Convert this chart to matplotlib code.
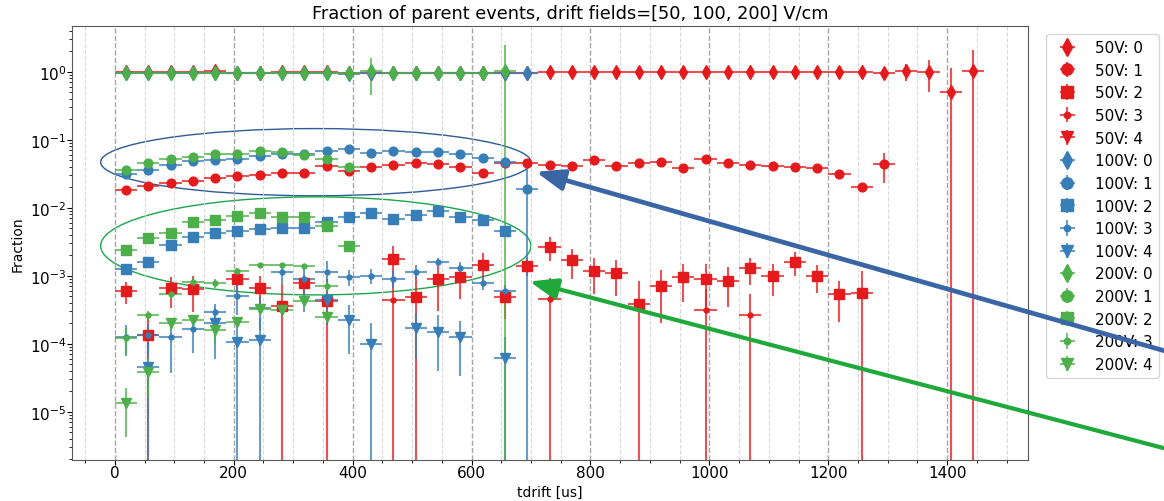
import matplotlib
matplotlib.use("Agg")
import matplotlib.pyplot as plt
from matplotlib.patches import Ellipse, FancyArrowPatch
from matplotlib.ticker import MultipleLocator

# bin centres of the drift time histogram [us]
tdrift = [18.75, 56.25, 93.75, 131.25, 168.75, 206.25, 243.75, 281.25,
          318.75, 356.25, 393.75, 431.25, 468.75, 506.25, 543.75, 581.25,
          618.75, 656.25, 693.75, 731.25, 768.75, 806.25, 843.75, 881.25,
          918.75, 956.25, 993.75, 1031.25, 1068.75, 1106.25, 1143.75,
          1181.25, 1218.75, 1256.25, 1293.75, 1331.25, 1368.75, 1406.25,
          1443.75]
half_bin = 18.75

fields = ["50V", "100V", "200V"]
colors = ["#e41a1c", "#377eb8", "#4daf4a"]
markers = ["d", "o", "s", ".", "v"]
msizes = [7, 6.3, 6.8, 7, 7]

# ---- 50 V/cm ----
bins_50_0 = list(range(39))
frac_50_0 = [0.98, 0.99, 0.98, 0.98, 1.02, 0.97, 0.97, 0.98, 0.98, 0.98,
             0.97, 0.97, 0.97, 0.97, 0.97, 0.97, 0.97, 0.97, 0.97, 0.98,
             0.98, 0.98, 0.98, 0.98, 0.98, 0.98, 0.98, 0.98, 0.98, 0.98,
             0.98, 0.98, 0.98, 0.99, 0.97, 1.02, 1.00, 0.51, 1.01]
err_50_0 = [0.02, 0.02, 0.02, 0.02, 0.02, 0.02, 0.02, 0.02, 0.02, 0.02,
            0.02, 0.02, 0.02, 0.02, 0.02, 0.02, 0.02, 0.02, 0.02, 0.02,
            0.03, 0.03, 0.03, 0.03, 0.03, 0.03, 0.03, 0.03, 0.03, 0.03,
            0.03, 0.03, 0.03, 0.05, 0.08, 0.30, 0.50, 0.62, 1.05]

bins_50_1 = list(range(35))
frac_50_1 = [0.0185, 0.0207, 0.0232, 0.0243, 0.0269, 0.0291, 0.0300, 0.0319,
             0.0319, 0.0409, 0.0341, 0.0400, 0.0423, 0.0449, 0.0440, 0.0396,
             0.0327, 0.0450, 0.0459, 0.0430, 0.0404, 0.0497, 0.0414, 0.0449,
             0.0471, 0.0383, 0.0514, 0.0449, 0.0423, 0.0414, 0.0396, 0.0383,
             0.0312, 0.0202, 0.0438]
err_50_1 = [0.0008, 0.0008, 0.0009, 0.0009, 0.0010, 0.0010, 0.0011, 0.0012,
            0.0012, 0.0015, 0.0013, 0.0015, 0.0016, 0.0017, 0.0017, 0.0016,
            0.0015, 0.0018, 0.0019, 0.0020, 0.0022, 0.0025, 0.0024, 0.0026,
            0.0028, 0.0026, 0.0032, 0.0030, 0.0030, 0.0031, 0.0032, 0.0033,
            0.0033, 0.0030, 0.0210]

bins_50_2 = [0, 1, 2, 3, 5, 6, 7, 8, 9, 12, 13, 14, 15, 16, 17, 18, 19, 20,
             21, 22, 23, 24, 25, 26, 27, 28, 29, 30, 31, 32, 33]
frac_50_2 = [5.9e-4, 1.34e-4, 6.5e-4, 6.4e-4, 9.0e-4, 6.5e-4, 3.6e-4, 7.8e-4,
             4.3e-4, 1.75e-3, 4.8e-4, 9.0e-4, 9.5e-4, 1.45e-3, 4.8e-4,
             1.4e-3, 2.67e-3, 1.7e-3, 1.18e-3, 1.1e-3, 3.8e-4, 7.0e-4,
             9.6e-4, 9.1e-4, 8.5e-4, 1.28e-3, 1.0e-3, 1.6e-3, 1.0e-3,
             5.3e-4, 5.6e-4]
err_50_2 = [2.1e-4, 1.4e-4, 3.2e-4, 3.5e-4, 3.5e-4, 3.3e-4, 4.0e-4, 2.5e-4,
            4.5e-4, 1.0e-3, 5.0e-4, 6.0e-4, 5.0e-4, 7.0e-4, 2.5e-4, 4.0e-4,
            1.0e-3, 8.0e-4, 6.5e-4, 6.0e-4, 4.5e-4, 5.0e-4, 5.5e-4, 6.0e-4,
            5.0e-4, 5.5e-4, 5.0e-4, 6.0e-4, 4.5e-4, 3.2e-4, 6.0e-4]

bins_50_3 = [12, 19, 26, 28]
frac_50_3 = [4.4e-4, 4.6e-4, 3.1e-4, 2.6e-4]
err_50_3 = [4.5e-4, 4.7e-4, 3.2e-4, 2.8e-4]

bins_50_4 = []
frac_50_4 = []
err_50_4 = []

# ---- 100 V/cm ----
bins_100_0 = list(range(19))
frac_100_0 = [0.95, 0.95, 0.95, 0.96, 0.95, 0.95, 0.96, 0.95, 0.95, 0.95,
              0.93, 0.95, 0.95, 0.95, 0.95, 0.95, 0.96, 0.96, 0.97]
err_100_0 = [0.02, 0.02, 0.02, 0.02, 0.02, 0.02, 0.02, 0.02, 0.02, 0.02,
             0.12, 0.02, 0.02, 0.02, 0.02, 0.02, 0.02, 0.03, 0.04]

bins_100_1 = list(range(19))
frac_100_1 = [0.0316, 0.0353, 0.0419, 0.0480, 0.0497, 0.0526, 0.0570, 0.0611,
              0.0620, 0.0692, 0.0730, 0.0640, 0.0684, 0.0655, 0.0670, 0.0624,
              0.0538, 0.0470, 0.0191]
err_100_1 = [0.0012, 0.0013, 0.0015, 0.0017, 0.0018, 0.0019, 0.0020, 0.0022,
             0.0023, 0.0026, 0.0028, 0.0026, 0.0028, 0.0028, 0.0030, 0.0030,
             0.0030, 0.0030, 0.0220]

bins_100_2 = list(range(18))
frac_100_2 = [1.24e-3, 1.6e-3, 2.8e-3, 3.7e-3, 4.3e-3, 4.5e-3, 4.8e-3, 5.0e-3,
              5.0e-3, 6.1e-3, 7.4e-3, 8.3e-3, 6.8e-3, 7.9e-3, 9.0e-3, 7.4e-3,
              6.5e-3, 4.6e-3]
err_100_2 = [8e-5, 9e-5, 1.3e-4, 1.6e-4, 1.8e-4, 1.9e-4, 2.0e-4, 2.1e-4,
             2.2e-4, 2.6e-4, 3.0e-4, 3.3e-4, 3.0e-4, 3.4e-4, 3.8e-4, 3.5e-4,
             3.4e-4, 3.0e-4]

bins_100_3 = list(range(18))
frac_100_3 = [1.27e-4, 1.34e-4, 1.27e-4, 1.64e-4, 2.9e-4, 5.1e-4, 3.3e-4,
              1.15e-3, 8.9e-4, 1.13e-3, 9.5e-4, 1.0e-3, 9.1e-4, 1.15e-3,
              1.6e-3, 1.28e-3, 7.8e-4, 6.0e-4]
err_100_3 = [6e-5, 6e-5, 9e-5, 9e-5, 1.0e-4, 2.5e-4, 1.7e-4, 4.0e-4, 6.0e-4,
             5.0e-4, 2.5e-4, 2.5e-4, 2.5e-4, 2.7e-4, 2.0e-4, 3.0e-4, 1.7e-4,
             1.0e-4]

bins_100_4 = [1, 4, 5, 6, 9, 10, 11, 13, 14, 15, 17]
frac_100_4 = [4.6e-5, 2.0e-4, 1.05e-4, 1.15e-4, 4.4e-4, 2.2e-4, 1.0e-4,
              1.7e-4, 1.5e-4, 1.24e-4, 6.2e-5]
err_100_4 = [5.5e-5, 1.4e-4, 1.1e-4, 1.2e-4, 2.5e-4, 1.5e-4, 1.05e-4,
             1.1e-4, 1.1e-4, 9e-5, 6.5e-5]

# ---- 200 V/cm ----
bins_200_0 = list(range(18))
frac_200_0 = [0.97, 0.97, 0.97, 0.97, 0.97, 0.96, 0.97, 0.97, 0.97, 0.97,
              0.96, 1.03, 0.97, 0.97, 0.97, 0.97, 0.97, 1.03]
err_200_0 = [0.02, 0.02, 0.02, 0.02, 0.02, 0.02, 0.02, 0.02, 0.02, 0.02,
             0.03, 0.57, 0.02, 0.02, 0.02, 0.02, 0.02, 1.40]

bins_200_1 = list(range(11))
frac_200_1 = [0.0357, 0.0459, 0.0526, 0.0562, 0.0616, 0.0620, 0.0676, 0.0670,
              0.0604, 0.0526, 0.0396]
err_200_1 = [0.0014, 0.0016, 0.0018, 0.0019, 0.0020, 0.0020, 0.0022, 0.0023,
             0.0023, 0.0023, 0.0025]

bins_200_2 = list(range(11))
frac_200_2 = [2.4e-3, 3.56e-3, 4.3e-3, 6.1e-3, 6.6e-3, 7.6e-3, 8.5e-3, 7.4e-3,
              7.4e-3, 5.3e-3, 2.7e-3]
err_200_2 = [1.3e-4, 1.7e-4, 2.0e-4, 2.6e-4, 2.8e-4, 3.1e-4, 3.4e-4, 3.2e-4,
             3.3e-4, 3.0e-4, 4.0e-4]

bins_200_3 = list(range(10))
frac_200_3 = [1.2e-4, 2.6e-4, 5.4e-4, 8.2e-4, 7.8e-4, 1.16e-3, 1.45e-3,
              1.45e-3, 1.38e-3, 7.0e-4]
err_200_3 = [5e-5, 4e-5, 8e-5, 1.0e-4, 1.1e-4, 1.2e-4, 1.0e-4, 1.0e-4,
             1.0e-4, 1.2e-4]

bins_200_4 = list(range(10))
frac_200_4 = [1.33e-5, 3.9e-5, 2.0e-4, 2.25e-4, 1.6e-4, 2.1e-4, 3.2e-4,
              3.1e-4, 4.3e-4, 2.5e-4]
err_200_4 = [9e-6, 2.3e-5, 4e-5, 3e-5, 6e-5, 3e-5, 4e-5, 3e-5, 3e-5, 2.5e-5]


def main():
    series = [
        [(bins_50_0, frac_50_0, err_50_0), (bins_50_1, frac_50_1, err_50_1),
         (bins_50_2, frac_50_2, err_50_2), (bins_50_3, frac_50_3, err_50_3),
         (bins_50_4, frac_50_4, err_50_4)],
        [(bins_100_0, frac_100_0, err_100_0),
         (bins_100_1, frac_100_1, err_100_1),
         (bins_100_2, frac_100_2, err_100_2),
         (bins_100_3, frac_100_3, err_100_3),
         (bins_100_4, frac_100_4, err_100_4)],
        [(bins_200_0, frac_200_0, err_200_0),
         (bins_200_1, frac_200_1, err_200_1),
         (bins_200_2, frac_200_2, err_200_2),
         (bins_200_3, frac_200_3, err_200_3),
         (bins_200_4, frac_200_4, err_200_4)],
    ]

    fig = plt.figure(figsize=(11.64, 5.02), dpi=100)
    ax = fig.add_axes([72 / 1164, 1 - 460.7 / 502,
                       956 / 1164, 433.7 / 502])

    for field, color, group in zip(fields, colors, series):
        for k, (bins, frac, err) in enumerate(group):
            x = [tdrift[b] for b in bins]
            cont = ax.errorbar(x, frac, yerr=err, xerr=half_bin,
                               fmt=markers[k], color=color,
                               markersize=msizes[k], elinewidth=1.5,
                               label=f"{field}: {k}")
            for bar in cont[2]:
                bar.set_alpha(0.75)

    ax.set_yscale("log")
    ax.set_ylim(1.97e-6, 4.7)
    ax.set_xlim(-72, 1536)
    ax.xaxis.set_minor_locator(MultipleLocator(50))
    ax.grid(True, which="major", axis="x", linestyle="--", color="0.65",
            linewidth=1.0)
    ax.grid(True, which="minor", axis="x", linestyle="--", color="0.85",
            linewidth=0.8)
    ax.tick_params(labelsize=11, pad=0.5)
    for sp in ax.spines.values():
        sp.set_color("0.35")

    ax.set_title("Fraction of parent events, drift fields=[50, 100, 200] V/cm",
                 fontsize=12.8, x=0.521)
    ax.set_xlabel("tdrift [us]", fontsize=10, labelpad=3)
    ax.set_ylabel("Fraction", fontsize=10)

    ax.legend(loc="upper left", bbox_to_anchor=(1046 / 1164, 1 - 35 / 502),
              bbox_transform=fig.transFigure, borderaxespad=0, fontsize=11,
              markerscale=1.3)

    # highlight of the 1- and 2-fold populations
    ax.add_patch(Ellipse((0.255, 0.686), 0.450, 0.155, transform=ax.transAxes,
                         fill=False, edgecolor="#2d5b96", linewidth=1.0))
    ax.add_patch(Ellipse((0.255, 0.493), 0.450, 0.226, transform=ax.transAxes,
                         fill=False, edgecolor="#1aa64a", linewidth=1.0))

    fig.add_artist(FancyArrowPatch((1.031, 0.279), (0.4579, 0.6574),
                                   transform=fig.transFigure,
                                   arrowstyle="-|>,head_length=1.2,head_width=0.45",
                                   mutation_scale=14, color="#3a66a6",
                                   linewidth=3.4, zorder=10))
    fig.add_artist(FancyArrowPatch((1.031, 0.0863), (0.4525, 0.4388),
                                   transform=fig.transFigure,
                                   arrowstyle="-|>,head_length=1.2,head_width=0.45",
                                   mutation_scale=14, color="#1fa93a",
                                   linewidth=3.0, zorder=10))

    fig.savefig("out.png", dpi=100)


if __name__ == "__main__":
    main()
